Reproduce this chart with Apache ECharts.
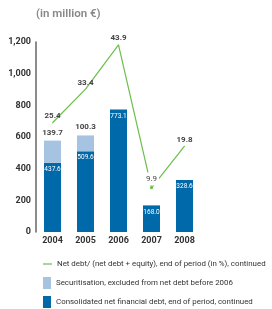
<!DOCTYPE html>
<html>
<head>
<meta charset="utf-8">
<script src="https://cdn.jsdelivr.net/npm/echarts@6/dist/echarts.min.js"></script>
<style>
  html, body { margin: 0; padding: 0; background: #fff; }
  #chart { width: 272px; height: 309px; }
</style>
</head>
<body>
<div id="chart"></div>
<script>
const years = ['2004', '2005', '2006', '2007', '2008'];
const netDebt = [437.6, 509.6, 773.1, 168.0, 328.6];
const securitisation = [139.7, 100.3, '-', '-', '-'];
const gearing = [25.4, 33.4, 43.9, 9.9, 19.8];
const yTicks = [0, 200, 400, 600, 800, 1000, 1200];

const names = [
    'Net debt/ (net debt + equity), end of period (in %), continued',
    'Securitisation, excluded from net debt before 2006',
    'Consolidated net financial debt, end of period, continued'
];

const font = 'Roboto';
const green = '#6abf4b';
const dark = '#0069a9';
const light = '#a6c3e1';

const chart = echarts.init(document.getElementById('chart'));

const legendText = { color: '#333', fontSize: 7.9, fontFamily: font };

chart.setOption({
    animation: false,
    textStyle: { fontFamily: font },
    title: {
        text: '(in million €)',
        left: 36, top: 8, padding: 0,
        textStyle: { color: '#888', fontSize: 11.5, fontWeight: 600, fontFamily: font }
    },
    legend: [
        {
            data: [{ name: names[0], icon: 'rect' }],
            left: 43, top: 260, padding: 0, itemWidth: 9, itemHeight: 1.2,
            textStyle: legendText
        },
        {
            data: [{ name: names[1], icon: 'rect' }],
            left: 43, top: 277, padding: 0, itemWidth: 8, itemHeight: 12,
            textStyle: legendText
        },
        {
            data: [{ name: names[2], icon: 'rect' }],
            left: 43, top: 296, padding: 0, itemWidth: 8, itemHeight: 12,
            textStyle: legendText
        }
    ],
    grid: { left: 36, right: 71, top: 42, bottom: 77 },
    xAxis: {
        type: 'category',
        data: years,
        axisLine: { show: false },
        axisTick: { show: false },
        axisLabel: { color: '#333', fontSize: 9, fontWeight: 'bold', margin: 4 }
    },
    yAxis: [
        {
            type: 'value',
            min: yTicks[0], max: yTicks[yTicks.length - 1], interval: 200,
            axisLine: { show: true, lineStyle: { color: '#666', width: 1.5 } },
            axisTick: { show: false },
            splitLine: { show: false },
            axisLabel: {
                color: '#333', fontSize: 9, fontWeight: 'bold', margin: 5,
                formatter: v => v.toLocaleString('en-US')
            }
        },
        { type: 'value', min: -0.6, max: 44.6, show: false, splitLine: { show: false } }
    ],
    series: [
        {
            name: names[2], type: 'bar', stack: 'debt', barWidth: 17,
            data: netDebt,
            itemStyle: { color: dark },
            label: {
                show: true, position: 'insideTop', distance: 3,
                color: '#fff', fontSize: 6.5, formatter: p => p.value.toFixed(1)
            }
        },
        {
            name: names[1], type: 'bar', stack: 'debt', barWidth: 17,
            data: securitisation,
            itemStyle: { color: light },
            label: {
                show: true, position: 'top', distance: 4,
                color: '#444', fontSize: 8, fontWeight: 'bold',
                formatter: p => p.value.toFixed(1)
            }
        },
        {
            name: names[0], type: 'line', yAxisIndex: 1,
            data: gearing.map((v, i) => i === 3
                ? { value: v, symbolSize: 3,
                    label: { backgroundColor: '#fff', padding: [3, 2, 2, 2], distance: 1, fontWeight: 'normal' } }
                : v),
            symbol: 'circle', symbolSize: 1,
            lineStyle: { color: green, width: 1.2 },
            itemStyle: { color: green },
            z: 3,
            label: {
                show: true, position: 'top', distance: 2,
                color: '#444', fontSize: 8, fontWeight: 'bold',
                formatter: p => p.value.toFixed(1)
            }
        }
    ]
});
</script>
</body>
</html>
